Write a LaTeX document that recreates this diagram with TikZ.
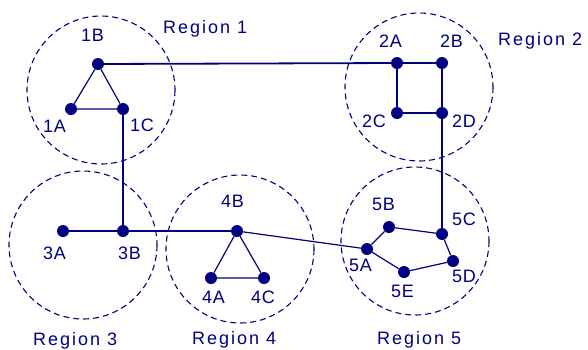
\documentclass[tikz,border=0pt]{standalone}
\usepackage{fontspec}
\setmainfont{Liberation Sans}[LetterSpace=4]
\newfontfamily\regionfont{Liberation Sans}[LetterSpace=11]
\usepackage{xcolor}
\definecolor{netblue}{RGB}{0,0,128}
\begin{document}
\begin{tikzpicture}[x=1pt,y=-1pt,
    dot/.style={circle,fill=netblue,inner sep=0pt,minimum size=12pt},
    txt/.style={anchor=base west,inner sep=0pt,text=netblue,font=\fontsize{18}{20}\selectfont},
    rtxt/.style={txt,font=\regionfont\fontsize{18}{20}\selectfont},
    area/.style={draw=netblue,line width=1.1pt,dash pattern=on 6pt off 4pt},
    link/.style={draw=netblue,line width=1.8pt},
    edge/.style={draw=netblue,line width=1.2pt}]
    \useasboundingbox (0,0) rectangle (588,349);
    %%Regions
    \draw[area] (101,90) circle (74);
    \draw[area] (419,87) circle (74);
    \draw[area] (83,245) circle (74);
    \draw[area] (240,249) circle (74);
    \draw[area] (415,241) circle (74);
    \node[rtxt] (r1) at (163,33) {Region 1};
    \node[rtxt] (r2) at (498,45) {Region 2};
    \node[rtxt] (r3) at (33,345) {Region 3};
    \node[rtxt] (r4) at (192,344) {Region 4};
    \node[rtxt] (r5) at (377,344) {Region 5};
    %%Sites
    \node[dot] (n1A) at (71,109) {};
    \node[dot] (n1B) at (98,64) {};
    \node[dot] (n1C) at (123,109) {};
    \node[dot] (n2A) at (397,63) {};
    \node[dot] (n2B) at (442,63) {};
    \node[dot] (n2C) at (397,113) {};
    \node[dot] (n2D) at (442,113) {};
    \node[dot] (n3A) at (63,231) {};
    \node[dot] (n3B) at (123,231) {};
    \node[dot] (n4A) at (211,278) {};
    \node[dot] (n4B) at (237,231) {};
    \node[dot] (n4C) at (264,278) {};
    \node[dot] (n5A) at (367,249) {};
    \node[dot] (n5B) at (389,227) {};
    \node[dot] (n5C) at (442,234) {};
    \node[dot] (n5D) at (453,261) {};
    \node[dot] (n5E) at (404,272) {};
    %%Names
    \node[txt] (l1A) at (43,132) {1A};
    \node[txt] (l1B) at (81,41) {1B};
    \node[txt] (l1C) at (130,131) {1C};
    \node[txt] (l2A) at (379,47) {2A};
    \node[txt] (l2B) at (440,47) {2B};
    \node[txt] (l2C) at (362,127) {2C};
    \node[txt] (l2D) at (452,127) {2D};
    \node[txt] (l3A) at (43,259) {3A};
    \node[txt] (l3B) at (118,259) {3B};
    \node[txt] (l4A) at (202,303) {4A};
    \node[txt] (l4B) at (221,207) {4B};
    \node[txt] (l4C) at (251,303) {4C};
    \node[txt] (l5A) at (349,271) {5A};
    \node[txt] (l5B) at (372,210) {5B};
    \node[txt] (l5C) at (452,225) {5C};
    \node[txt] (l5D) at (452,282) {5D};
    \node[txt] (l5E) at (391,297) {5E};
    %%Local links
    \draw[edge] (n1A) -- (n1B) -- (n1C) -- (n1A);
    \draw[edge] (n2A) -- (n2B) -- (n2D) -- (n2C) -- (n2A);
    \draw[edge] (n4A) -- (n4B) -- (n4C) -- (n4A);
    \draw[edge] (n5A) -- (n5B) -- (n5C) -- (n5D) -- (n5E) -- (n5A);
    %%Backbone
    \draw[link] (n1B) -- (n2A);
    \draw[link] (n1C) -- (n3B);
    \draw[link] (n3A) -- (n3B) -- (n4B);
    \draw[edge] (n4B) -- (n5A);
    \draw[link] (n2D) -- (n5C);
\end{tikzpicture}
\end{document}
